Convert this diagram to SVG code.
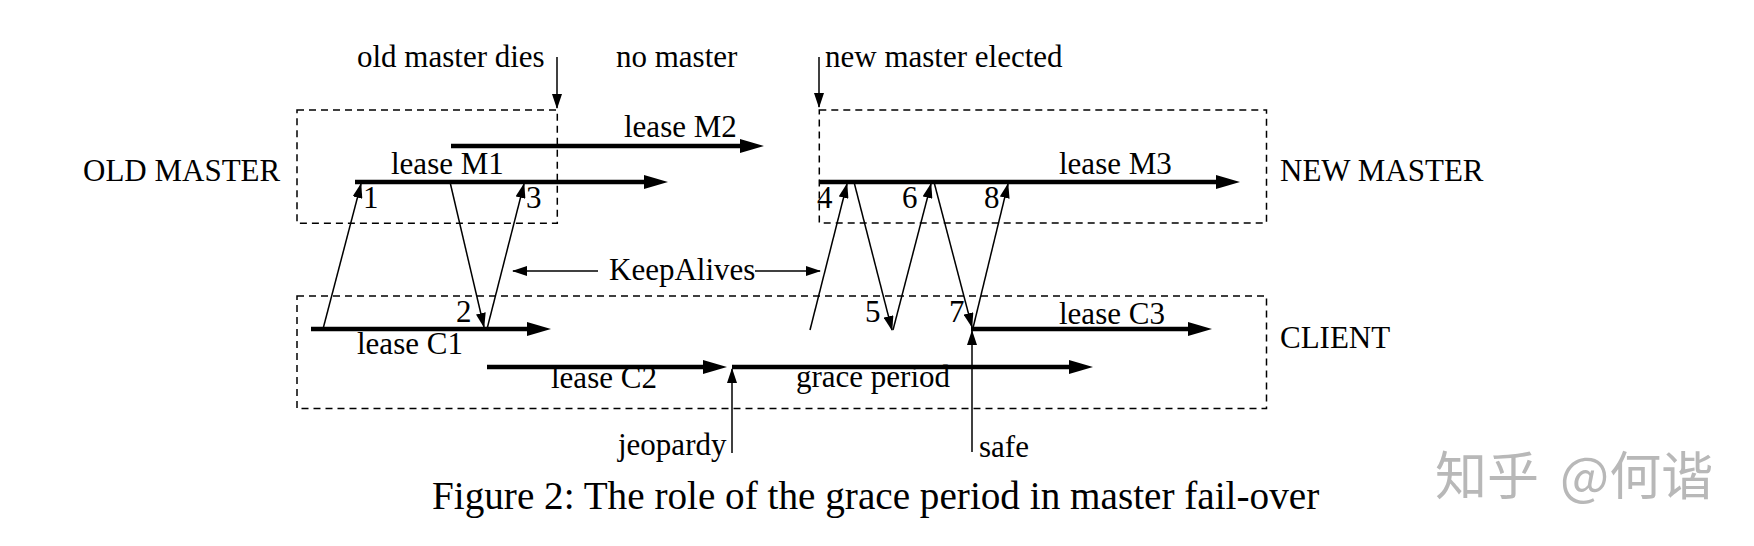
<svg xmlns="http://www.w3.org/2000/svg" width="1754" height="546" viewBox="0 0 1754 546">
<style>
text{font-family:"Liberation Serif","Times New Roman",serif;font-size:31px;fill:#000}
.cap{font-size:39.2px}
.box{fill:none;stroke:#000;stroke-width:1.5;stroke-dasharray:7 5}
.thick{stroke:#000;stroke-width:4.5;fill:none;marker-end:url(#ah)}
.thin{stroke:#000;stroke-width:1.5;fill:none;marker-end:url(#as)}
.wm{font-family:"Noto Sans CJK SC","Noto Sans",sans-serif;font-size:52px;fill:#b8b8b8}
</style>
<defs>
<marker id="ah" viewBox="0 0 24 14" markerWidth="24" markerHeight="14" refX="14" refY="7" orient="auto" markerUnits="userSpaceOnUse"><path d="M0,0 L24,7 L0,14 z" fill="#000"/></marker>
<marker id="as" viewBox="0 0 15 10" markerWidth="15" markerHeight="10" refX="14" refY="5" orient="auto" markerUnits="userSpaceOnUse"><path d="M0,0 L15,5 L0,10 z" fill="#000"/></marker>
</defs>
<rect width="1754" height="546" fill="#fff"/>

<g id="old-master">
<rect class="box" x="297" y="110" width="260.3" height="113.3"/>
<text x="83" y="181">OLD MASTER</text>
</g>
<g id="new-master">
<rect class="box" x="819.3" y="110" width="447.2" height="113"/>
<text x="1280" y="181">NEW MASTER</text>
</g>
<g id="client">
<rect class="box" x="297" y="296" width="969.5" height="112.5"/>
<text x="1280" y="348">CLIENT</text>
</g>

<g id="leases">
<line class="thick" x1="451" y1="146" x2="754" y2="146"/>
<text x="624" y="137">lease M2</text>
<line class="thick" x1="355" y1="182" x2="658" y2="182"/>
<text x="391" y="174">lease M1</text>
<line class="thick" x1="819" y1="182" x2="1230" y2="182"/>
<text x="1059" y="174">lease M3</text>
<line class="thick" x1="311" y1="329" x2="541" y2="329"/>
<text x="357" y="354">lease C1</text>
<line class="thick" x1="487" y1="367" x2="717" y2="367"/>
<text x="551" y="388">lease C2</text>
<line class="thick" x1="732" y1="367" x2="1083" y2="367"/>
<text x="796" y="387">grace period</text>
<line class="thick" x1="971" y1="329" x2="1202" y2="329"/>
<text x="1059" y="324">lease C3</text>
</g>

<g id="connectors">
<line class="thin" x1="557" y1="57" x2="557" y2="108"/>
<line class="thin" x1="819" y1="57" x2="819" y2="107"/>
<line class="thin" x1="323" y1="329" x2="361" y2="184"/>
<line class="thin" x1="450" y1="182" x2="484" y2="327"/>
<line class="thin" x1="487" y1="329" x2="524" y2="184"/>
<line class="thin" x1="598" y1="271" x2="513" y2="271"/>
<line class="thin" x1="755" y1="271" x2="820" y2="271"/>
<line class="thin" x1="810" y1="330" x2="847" y2="184"/>
<line class="thin" x1="854" y1="182" x2="892" y2="330"/>
<line class="thin" x1="893" y1="330" x2="931" y2="184"/>
<line class="thin" x1="934" y1="182" x2="972" y2="327"/>
<line class="thin" x1="973" y1="328" x2="1008" y2="184"/>
<line class="thin" x1="732" y1="453" x2="732" y2="369"/>
<line class="thin" x1="972" y1="452" x2="972" y2="331"/>
</g>

<g id="labels">
<text x="357" y="67">old master dies</text>
<text x="616" y="67">no master</text>
<text x="825" y="67">new master elected</text>
<text x="609" y="280">KeepAlives</text>
<text x="363" y="208">1</text>
<text x="456" y="322">2</text>
<text x="526" y="208">3</text>
<text x="817" y="208">4</text>
<text x="865" y="322">5</text>
<text x="902" y="208">6</text>
<text x="949" y="322">7</text>
<text x="984" y="208">8</text>
<text x="618" y="455">jeopardy</text>
<text x="979" y="457">safe</text>
</g>

<text class="cap" x="432" y="509">Figure 2: The role of the grace period in master fail-over</text>
<text class="wm" y="495"><tspan x="1435">知乎</tspan><tspan x="1560">@何谐</tspan></text>
</svg>
